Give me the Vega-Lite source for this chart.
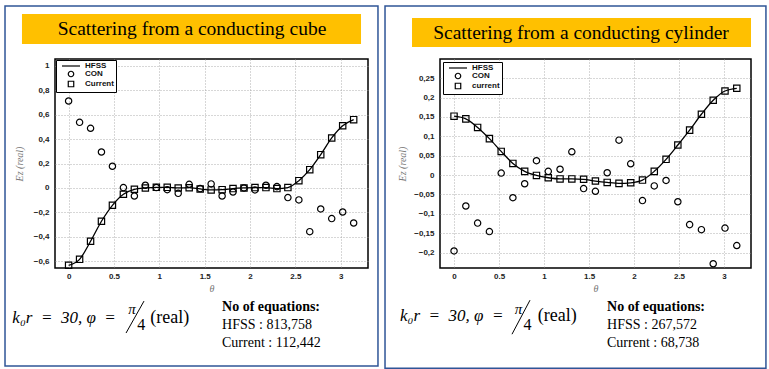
{
  "$schema": "https://vega.github.io/schema/vega-lite/v6.json",
  "background": "white",
  "padding": {"left": 3, "top": 4, "right": 3, "bottom": 2},
  "bounds": "flush",
  "spacing": 72,
  "resolve": {"scale": {"shape": "independent", "x": "independent", "y": "independent"}, "legend": {"shape": "independent"}},
  "datasets": {
    "one": [{}],
    "cube": [
      {"theta": 0.000, "Ez": -0.634, "series": "Current"},
      {"theta": 0.121, "Ez": -0.585, "series": "Current"},
      {"theta": 0.242, "Ez": -0.437, "series": "Current"},
      {"theta": 0.362, "Ez": -0.273, "series": "Current"},
      {"theta": 0.483, "Ez": -0.142, "series": "Current"},
      {"theta": 0.604, "Ez": -0.052, "series": "Current"},
      {"theta": 0.725, "Ez": -0.011, "series": "Current"},
      {"theta": 0.846, "Ez": 0.000, "series": "Current"},
      {"theta": 0.967, "Ez": 0.005, "series": "Current"},
      {"theta": 1.087, "Ez": 0.005, "series": "Current"},
      {"theta": 1.208, "Ez": 0.000, "series": "Current"},
      {"theta": 1.329, "Ez": 0.002, "series": "Current"},
      {"theta": 1.450, "Ez": -0.008, "series": "Current"},
      {"theta": 1.571, "Ez": -0.016, "series": "Current"},
      {"theta": 1.692, "Ez": -0.014, "series": "Current"},
      {"theta": 1.812, "Ez": -0.005, "series": "Current"},
      {"theta": 1.933, "Ez": 0.000, "series": "Current"},
      {"theta": 2.054, "Ez": 0.003, "series": "Current"},
      {"theta": 2.175, "Ez": 0.003, "series": "Current"},
      {"theta": 2.296, "Ez": -0.005, "series": "Current"},
      {"theta": 2.417, "Ez": 0.003, "series": "Current"},
      {"theta": 2.538, "Ez": 0.060, "series": "Current"},
      {"theta": 2.658, "Ez": 0.150, "series": "Current"},
      {"theta": 2.779, "Ez": 0.273, "series": "Current"},
      {"theta": 2.900, "Ez": 0.410, "series": "Current"},
      {"theta": 3.021, "Ez": 0.510, "series": "Current"},
      {"theta": 3.142, "Ez": 0.560, "series": "Current"},
      {"theta": 0.000, "Ez": 0.713, "series": "CON"},
      {"theta": 0.121, "Ez": 0.538, "series": "CON"},
      {"theta": 0.242, "Ez": 0.489, "series": "CON"},
      {"theta": 0.362, "Ez": 0.295, "series": "CON"},
      {"theta": 0.483, "Ez": 0.178, "series": "CON"},
      {"theta": 0.604, "Ez": 0.003, "series": "CON"},
      {"theta": 0.725, "Ez": -0.066, "series": "CON"},
      {"theta": 0.846, "Ez": 0.022, "series": "CON"},
      {"theta": 0.967, "Ez": 0.003, "series": "CON"},
      {"theta": 1.087, "Ez": -0.014, "series": "CON"},
      {"theta": 1.208, "Ez": -0.044, "series": "CON"},
      {"theta": 1.329, "Ez": 0.030, "series": "CON"},
      {"theta": 1.450, "Ez": -0.005, "series": "CON"},
      {"theta": 1.571, "Ez": 0.033, "series": "CON"},
      {"theta": 1.692, "Ez": -0.066, "series": "CON"},
      {"theta": 1.812, "Ez": -0.033, "series": "CON"},
      {"theta": 1.933, "Ez": 0.000, "series": "CON"},
      {"theta": 2.054, "Ez": -0.016, "series": "CON"},
      {"theta": 2.175, "Ez": 0.022, "series": "CON"},
      {"theta": 2.296, "Ez": 0.011, "series": "CON"},
      {"theta": 2.417, "Ez": -0.079, "series": "CON"},
      {"theta": 2.538, "Ez": -0.098, "series": "CON"},
      {"theta": 2.658, "Ez": -0.358, "series": "CON"},
      {"theta": 2.779, "Ez": -0.172, "series": "CON"},
      {"theta": 2.900, "Ez": -0.251, "series": "CON"},
      {"theta": 3.021, "Ez": -0.197, "series": "CON"},
      {"theta": 3.142, "Ez": -0.287, "series": "CON"}
    ],
    "cyl": [
      {"theta": 0.000, "Ez": 0.152, "series": "current"},
      {"theta": 0.131, "Ez": 0.145, "series": "current"},
      {"theta": 0.262, "Ez": 0.123, "series": "current"},
      {"theta": 0.393, "Ez": 0.094, "series": "current"},
      {"theta": 0.524, "Ez": 0.061, "series": "current"},
      {"theta": 0.654, "Ez": 0.030, "series": "current"},
      {"theta": 0.785, "Ez": 0.0095, "series": "current"},
      {"theta": 0.916, "Ez": -0.001, "series": "current"},
      {"theta": 1.047, "Ez": -0.007, "series": "current"},
      {"theta": 1.178, "Ez": -0.010, "series": "current"},
      {"theta": 1.309, "Ez": -0.010, "series": "current"},
      {"theta": 1.440, "Ez": -0.011, "series": "current"},
      {"theta": 1.571, "Ez": -0.0155, "series": "current"},
      {"theta": 1.702, "Ez": -0.019, "series": "current"},
      {"theta": 1.833, "Ez": -0.0215, "series": "current"},
      {"theta": 1.963, "Ez": -0.020, "series": "current"},
      {"theta": 2.094, "Ez": -0.013, "series": "current"},
      {"theta": 2.225, "Ez": 0.0095, "series": "current"},
      {"theta": 2.356, "Ez": 0.0405, "series": "current"},
      {"theta": 2.487, "Ez": 0.0775, "series": "current"},
      {"theta": 2.618, "Ez": 0.116, "series": "current"},
      {"theta": 2.749, "Ez": 0.157, "series": "current"},
      {"theta": 2.880, "Ez": 0.193, "series": "current"},
      {"theta": 3.011, "Ez": 0.217, "series": "current"},
      {"theta": 3.142, "Ez": 0.224, "series": "current"},
      {"theta": 0.000, "Ez": -0.196, "series": "CON"},
      {"theta": 0.131, "Ez": -0.080, "series": "CON"},
      {"theta": 0.262, "Ez": -0.124, "series": "CON"},
      {"theta": 0.393, "Ez": -0.146, "series": "CON"},
      {"theta": 0.524, "Ez": 0.005, "series": "CON"},
      {"theta": 0.654, "Ez": -0.0585, "series": "CON"},
      {"theta": 0.785, "Ez": -0.0225, "series": "CON"},
      {"theta": 0.916, "Ez": 0.037, "series": "CON"},
      {"theta": 1.047, "Ez": 0.0095, "series": "CON"},
      {"theta": 1.178, "Ez": 0.015, "series": "CON"},
      {"theta": 1.309, "Ez": 0.060, "series": "CON"},
      {"theta": 1.440, "Ez": -0.035, "series": "CON"},
      {"theta": 1.571, "Ez": -0.042, "series": "CON"},
      {"theta": 1.702, "Ez": 0.006, "series": "CON"},
      {"theta": 1.833, "Ez": 0.090, "series": "CON"},
      {"theta": 1.963, "Ez": 0.029, "series": "CON"},
      {"theta": 2.094, "Ez": -0.066, "series": "CON"},
      {"theta": 2.225, "Ez": -0.028, "series": "CON"},
      {"theta": 2.356, "Ez": -0.014, "series": "CON"},
      {"theta": 2.487, "Ez": -0.069, "series": "CON"},
      {"theta": 2.618, "Ez": -0.128, "series": "CON"},
      {"theta": 2.749, "Ez": -0.141, "series": "CON"},
      {"theta": 2.880, "Ez": -0.229, "series": "CON"},
      {"theta": 3.011, "Ez": -0.137, "series": "CON"},
      {"theta": 3.142, "Ez": -0.182, "series": "CON"}
    ]
  },
  "hconcat": [
    {
      "width": 313,
      "height": 209,
      "layer": [
        {
          "data": {"name": "one"},
          "mark": {"type": "rect", "fillOpacity": 0, "stroke": "#2F5597", "strokeWidth": 1.5},
          "encoding": {
            "x": {"datum": -0.701, "type": "quantitative", "scale": {"domain": [-0.15, 3.3], "nice": false, "zero": false}, "axis": {"title": "θ", "values": [0, 0.5, 1, 1.5, 2, 2.5, 3], "tickCount": 20, "labelExpr": "format(datum.value, '.2~f')", "labelPadding": 4, "titlePadding": 3, "labelOverlap": false}},
            "x2": {"datum": 3.41},
            "y": {"datum": 1.491, "type": "quantitative", "scale": {"domain": [-0.656, 1.057], "nice": false, "zero": false}, "axis": {"title": "Ez (real)", "values": [-0.6, -0.4, -0.2, 0, 0.2, 0.4, 0.6, 0.8, 1], "tickCount": 20, "labelExpr": "replace(format(datum.value, '.2~f'), '.', ',')", "labelPadding": 6, "titlePadding": 9, "labelOverlap": false}},
            "y2": {"datum": -1.459}
          }
        },
        {
          "data": {"name": "one"},
          "mark": {"type": "rect", "fill": "#FFC000"},
          "encoding": {
            "x": {"datum": -0.514, "type": "quantitative"},
            "x2": {"datum": 3.223},
            "y": {"datum": 1.426, "type": "quantitative"},
            "y2": {"datum": 1.180}
          }
        },
        {
          "data": {"name": "one"},
          "mark": {"type": "text", "text": "Scattering from a conducting cube", "font": "Liberation Serif", "fontSize": 19.5, "color": "black", "align": "center", "baseline": "middle"},
          "encoding": {
            "x": {"datum": 1.36, "type": "quantitative"},
            "y": {"datum": 1.303, "type": "quantitative"}
          }
        },
        {
          "data": {"name": "cube"},
          "transform": [{"filter": "datum.series == 'Current'"}],
          "mark": {"type": "line", "color": "black", "strokeWidth": 1.3, "interpolate": "monotone"},
          "encoding": {
            "x": {"field": "theta", "type": "quantitative", "scale": {"domain": [-0.15, 3.3], "nice": false, "zero": false}, "axis": {"title": "θ", "values": [0, 0.5, 1, 1.5, 2, 2.5, 3], "tickCount": 20, "labelExpr": "format(datum.value, '.2~f')", "labelPadding": 4, "titlePadding": 3, "labelOverlap": false}},
            "y": {"field": "Ez", "type": "quantitative", "scale": {"domain": [-0.656, 1.057], "nice": false, "zero": false}, "axis": {"title": "Ez (real)", "values": [-0.6, -0.4, -0.2, 0, 0.2, 0.4, 0.6, 0.8, 1], "tickCount": 20, "labelExpr": "replace(format(datum.value, '.2~f'), '.', ',')", "labelPadding": 6, "titlePadding": 9, "labelOverlap": false}}
          }
        },
        {
          "data": {"name": "cube"},
          "mark": {"type": "point", "filled": false, "color": "black", "strokeWidth": 1.2, "size": 40, "opacity": 1},
          "encoding": {
            "x": {"field": "theta", "type": "quantitative"},
            "y": {"field": "Ez", "type": "quantitative"},
            "shape": {
              "field": "series", "type": "nominal",
              "scale": {"domain": ["HFSS", "CON", "Current"], "range": ["M-3.3,0H3.3", "circle", "square"]},
              "legend": {"title": null, "orient": "top-left", "offset": 1, "padding": 2, "strokeColor": "black", "fillColor": "white", "symbolSize": 30, "symbolStrokeWidth": 1.2, "symbolStrokeColor": "black", "symbolFillColor": "transparent", "symbolOffset": 9, "labelOffset": 10, "labelFont": "Liberation Sans", "labelFontWeight": "bold", "labelFontSize": 8, "labelColor": "#111", "rowPadding": -2}
            }
          }
        },
        {
          "data": {"name": "one"},
          "mark": {"type": "text", "text": "k₀r\u00a0\u00a0=\u00a0\u00a030,\u00a0φ\u00a0\u00a0=", "font": "Liberation Serif", "fontStyle": "italic", "fontSize": 17, "align": "left", "baseline": "middle", "color": "black"},
          "encoding": {"x": {"datum": -0.62, "type": "quantitative"}, "y": {"datum": -1.066, "type": "quantitative"}}
        },
        {
          "data": {"name": "one"},
          "mark": {"type": "text", "text": "π", "font": "Liberation Serif", "fontStyle": "italic", "fontSize": 15, "align": "center", "baseline": "middle", "color": "black"},
          "encoding": {"x": {"datum": 0.699, "type": "quantitative"}, "y": {"datum": -0.992, "type": "quantitative"}}
        },
        {
          "data": {"name": "one"},
          "mark": {"type": "rule", "color": "black", "strokeWidth": 1},
          "encoding": {"x": {"datum": 0.633, "type": "quantitative"}, "y": {"datum": -1.189, "type": "quantitative"}, "x2": {"datum": 0.831}, "y2": {"datum": -0.927}}
        },
        {
          "data": {"name": "one"},
          "mark": {"type": "text", "text": "4", "font": "Liberation Serif", "fontSize": 16, "align": "center", "baseline": "middle", "color": "black"},
          "encoding": {"x": {"datum": 0.80, "type": "quantitative"}, "y": {"datum": -1.123, "type": "quantitative"}}
        },
        {
          "data": {"name": "one"},
          "mark": {"type": "text", "text": "(real)", "font": "Liberation Serif", "fontSize": 18, "align": "left", "baseline": "middle", "color": "black"},
          "encoding": {"x": {"datum": 0.90, "type": "quantitative"}, "y": {"datum": -1.066, "type": "quantitative"}}
        },
        {
          "data": {"name": "one"},
          "mark": {"type": "text", "text": "No of equations:", "font": "Liberation Serif", "fontWeight": "bold", "fontSize": 14, "align": "left", "baseline": "middle", "color": "black"},
          "encoding": {"x": {"datum": 1.691, "type": "quantitative"}, "y": {"datum": -0.976, "type": "quantitative"}}
        },
        {
          "data": {"name": "one"},
          "mark": {"type": "text", "text": "HFSS : 813,758", "font": "Liberation Serif", "fontSize": 14, "align": "left", "baseline": "middle", "color": "black"},
          "encoding": {"x": {"datum": 1.691, "type": "quantitative"}, "y": {"datum": -1.123, "type": "quantitative"}}
        },
        {
          "data": {"name": "one"},
          "mark": {"type": "text", "text": "Current : 112,442", "font": "Liberation Serif", "fontSize": 14, "align": "left", "baseline": "middle", "color": "black"},
          "encoding": {"x": {"datum": 1.691, "type": "quantitative"}, "y": {"datum": -1.271, "type": "quantitative"}}
        }
      ]
    },
    {
      "width": 311,
      "height": 209,
      "layer": [
        {
          "data": {"name": "one"},
          "mark": {"type": "rect", "fillOpacity": 0, "stroke": "#2F5597", "strokeWidth": 1.5},
          "encoding": {
            "x": {"datum": -0.767, "type": "quantitative", "scale": {"domain": [-0.156, 3.3], "nice": false, "zero": false}, "axis": {"title": "θ", "values": [0, 0.5, 1, 1.5, 2, 2.5, 3], "tickCount": 20, "labelExpr": "format(datum.value, '.2~f')", "labelPadding": 4, "titlePadding": 3, "labelOverlap": false}},
            "x2": {"datum": 3.466},
            "y": {"datum": 0.4366, "type": "quantitative", "scale": {"domain": [-0.24, 0.2996], "nice": false, "zero": false}, "axis": {"title": "Ez (real)", "values": [-0.2, -0.15, -0.1, -0.05, 0, 0.05, 0.1, 0.15, 0.2, 0.25], "tickCount": 20, "labelExpr": "replace(format(datum.value, '.2~f'), '.', ',')", "labelPadding": 6, "titlePadding": 6, "labelOverlap": false}},
            "y2": {"datum": -0.499}
          }
        },
        {
          "data": {"name": "one"},
          "mark": {"type": "rect", "fill": "#FFC000"},
          "encoding": {
            "x": {"datum": -0.467, "type": "quantitative"},
            "x2": {"datum": 3.3},
            "y": {"datum": 0.4055, "type": "quantitative"},
            "y2": {"datum": 0.3306}
          }
        },
        {
          "data": {"name": "one"},
          "mark": {"type": "text", "text": "Scattering from a conducting cylinder", "font": "Liberation Serif", "fontSize": 19.5, "color": "black", "align": "center", "baseline": "middle"},
          "encoding": {
            "x": {"datum": 1.411, "type": "quantitative"},
            "y": {"datum": 0.368, "type": "quantitative"}
          }
        },
        {
          "data": {"name": "cyl"},
          "transform": [{"filter": "datum.series == 'current'"}],
          "mark": {"type": "line", "color": "black", "strokeWidth": 1.3, "interpolate": "monotone"},
          "encoding": {
            "x": {"field": "theta", "type": "quantitative", "scale": {"domain": [-0.156, 3.3], "nice": false, "zero": false}, "axis": {"title": "θ", "values": [0, 0.5, 1, 1.5, 2, 2.5, 3], "tickCount": 20, "labelExpr": "format(datum.value, '.2~f')", "labelPadding": 4, "titlePadding": 3, "labelOverlap": false}},
            "y": {"field": "Ez", "type": "quantitative", "scale": {"domain": [-0.24, 0.2996], "nice": false, "zero": false}, "axis": {"title": "Ez (real)", "values": [-0.2, -0.15, -0.1, -0.05, 0, 0.05, 0.1, 0.15, 0.2, 0.25], "tickCount": 20, "labelExpr": "replace(format(datum.value, '.2~f'), '.', ',')", "labelPadding": 6, "titlePadding": 6, "labelOverlap": false}}
          }
        },
        {
          "data": {"name": "cyl"},
          "mark": {"type": "point", "filled": false, "color": "black", "strokeWidth": 1.2, "size": 40, "opacity": 1},
          "encoding": {
            "x": {"field": "theta", "type": "quantitative"},
            "y": {"field": "Ez", "type": "quantitative"},
            "shape": {
              "field": "series", "type": "nominal",
              "scale": {"domain": ["HFSS", "CON", "current"], "range": ["M-3.3,0H3.3", "circle", "square"]},
              "legend": {"title": null, "orient": "top-left", "offset": 3, "padding": 2, "strokeColor": "black", "fillColor": "white", "symbolSize": 30, "symbolStrokeWidth": 1.2, "symbolStrokeColor": "black", "symbolFillColor": "transparent", "symbolOffset": 9, "labelOffset": 10, "labelFont": "Liberation Sans", "labelFontWeight": "bold", "labelFontSize": 8, "labelColor": "#111", "rowPadding": -2}
            }
          }
        },
        {
          "data": {"name": "one"},
          "mark": {"type": "text", "text": "k₀r\u00a0\u00a0=\u00a0\u00a030,\u00a0φ\u00a0\u00a0=", "font": "Liberation Serif", "fontStyle": "italic", "fontSize": 17, "align": "left", "baseline": "middle", "color": "black"},
          "encoding": {"x": {"datum": -0.6, "type": "quantitative"}, "y": {"datum": -0.3645, "type": "quantitative"}}
        },
        {
          "data": {"name": "one"},
          "mark": {"type": "text", "text": "π", "font": "Liberation Serif", "fontStyle": "italic", "fontSize": 15, "align": "center", "baseline": "middle", "color": "black"},
          "encoding": {"x": {"datum": 0.716, "type": "quantitative"}, "y": {"datum": -0.3464, "type": "quantitative"}}
        },
        {
          "data": {"name": "one"},
          "mark": {"type": "rule", "color": "black", "strokeWidth": 1},
          "encoding": {"x": {"datum": 0.644, "type": "quantitative"}, "y": {"datum": -0.411, "type": "quantitative"}, "x2": {"datum": 0.844}, "y2": {"datum": -0.3231}}
        },
        {
          "data": {"name": "one"},
          "mark": {"type": "text", "text": "4", "font": "Liberation Serif", "fontSize": 16, "align": "center", "baseline": "middle", "color": "black"},
          "encoding": {"x": {"datum": 0.815, "type": "quantitative"}, "y": {"datum": -0.3877, "type": "quantitative"}}
        },
        {
          "data": {"name": "one"},
          "mark": {"type": "text", "text": "(real)", "font": "Liberation Serif", "fontSize": 18, "align": "left", "baseline": "middle", "color": "black"},
          "encoding": {"x": {"datum": 0.93, "type": "quantitative"}, "y": {"datum": -0.3645, "type": "quantitative"}}
        },
        {
          "data": {"name": "one"},
          "mark": {"type": "text", "text": "No of equations:", "font": "Liberation Serif", "fontWeight": "bold", "fontSize": 14, "align": "left", "baseline": "middle", "color": "black"},
          "encoding": {"x": {"datum": 1.70, "type": "quantitative"}, "y": {"datum": -0.341, "type": "quantitative"}}
        },
        {
          "data": {"name": "one"},
          "mark": {"type": "text", "text": "HFSS : 267,572", "font": "Liberation Serif", "fontSize": 14, "align": "left", "baseline": "middle", "color": "black"},
          "encoding": {"x": {"datum": 1.70, "type": "quantitative"}, "y": {"datum": -0.388, "type": "quantitative"}}
        },
        {
          "data": {"name": "one"},
          "mark": {"type": "text", "text": "Current : 68,738", "font": "Liberation Serif", "fontSize": 14, "align": "left", "baseline": "middle", "color": "black"},
          "encoding": {"x": {"datum": 1.70, "type": "quantitative"}, "y": {"datum": -0.434, "type": "quantitative"}}
        }
      ]
    }
  ],
  "config": {
    "view": {"stroke": "black", "strokeWidth": 1.5},
    "axis": {
      "grid": true, "gridColor": "#9a9a9a", "gridDash": [1, 2], "gridWidth": 0.8,
      "domain": false, "ticks": false, "labelOverlap": false,
      "labelFont": "Liberation Sans", "labelFontWeight": "bold", "labelFontSize": 8, "labelColor": "#222",
      "titleFont": "Liberation Serif", "titleFontStyle": "italic", "titleFontWeight": "normal", "titleColor": "#777", "titleFontSize": 10
    }
  }
}
